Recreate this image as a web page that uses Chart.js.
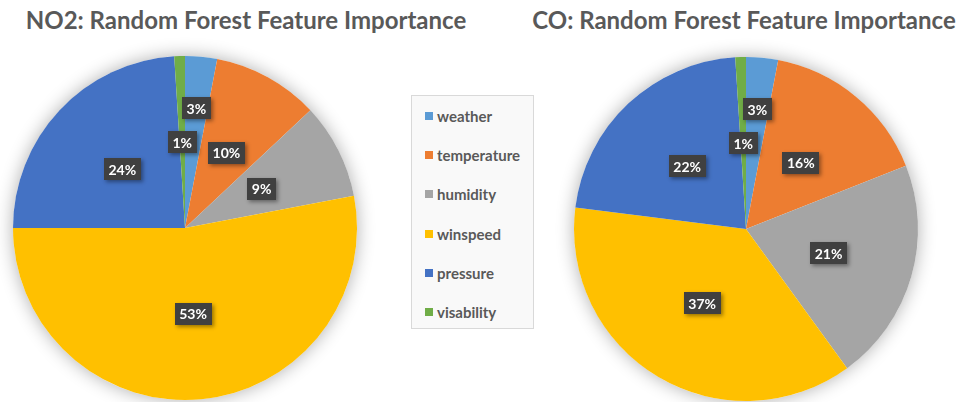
<!DOCTYPE html>
<html>
<head>
<meta charset="utf-8">
<script src="https://cdn.jsdelivr.net/npm/chart.js@4.4.1/dist/chart.umd.min.js"></script>
<style>
  html, body { margin: 0; padding: 0; background: #ffffff; }
  #stage { position: relative; width: 965px; height: 402px; overflow: hidden; background: #ffffff; }
  .title {
    position: absolute; top: 6px; text-align: center; white-space: nowrap;
    font-family: Lato, "Open Sans", sans-serif; font-weight: 700; font-size: 24px;
    line-height: 28px; color: #595959;
  }
  canvas { position: absolute; top: 0; }
  #legend {
    position: absolute; left: 411px; top: 95px; width: 121px; height: 232px;
    background: #f9f9f9; border: 1px solid #d9d9d9;
  }
  .item {
    position: absolute; left: 13px; height: 20px; line-height: 20px;
    font-family: Lato, "Open Sans", sans-serif; font-weight: 700; font-size: 15px; color: #595959;
    white-space: nowrap;
  }
  .swatch { position: absolute; left: 0; top: 6px; width: 8px; height: 8px; }
  .item span.txt { position: absolute; left: 12px; top: 0; }
</style>
</head>
<body>
<div id="stage">
  <div class="title" id="t1" style="left:0; width:492px;"></div>
  <div class="title" id="t2" style="left:500px; width:488px;"></div>
  <canvas id="no2" width="400" height="402" style="left:0;"></canvas>
  <canvas id="co" width="425" height="402" style="left:540px;"></canvas>
  <div id="legend"></div>
</div>
<script>
// Features and their importance (%) in each random forest model
const categories = ['weather', 'temperature', 'humidity', 'winspeed', 'pressure', 'visability'];
const no2Importance = [3, 10, 9, 53, 24, 1];
const coImportance = [3, 16, 21, 37, 22, 1];
const chartTitles = ['NO2: Random Forest Feature Importance', 'CO: Random Forest Feature Importance'];

const palette = ['#5b9bd5', '#ed7d31', '#a5a5a5', '#ffc000', '#4472c4', '#70ad47'];

document.getElementById('t1').textContent = chartTitles[0];
document.getElementById('t2').textContent = chartTitles[1];

// Shared legend
const legend = document.getElementById('legend');
categories.forEach((name, i) => {
  const item = document.createElement('div');
  item.className = 'item';
  item.style.top = (10 + i * 39.2) + 'px';
  const sw = document.createElement('div');
  sw.className = 'swatch';
  sw.style.background = palette[i];
  const tx = document.createElement('span');
  tx.className = 'txt';
  tx.textContent = name;
  item.appendChild(sw);
  item.appendChild(tx);
  legend.appendChild(item);
});

// Soft glow behind the whole pie
const pieShadow = {
  id: 'pieShadow',
  beforeDatasetsDraw(chart) {
    const arc = chart.getDatasetMeta(0).data[0];
    if (!arc) return;
    const { x, y, outerRadius } = arc.getProps(['x', 'y', 'outerRadius'], true);
    const ctx = chart.ctx;
    ctx.save();
    ctx.shadowColor = 'rgba(0,0,0,0.32)';
    ctx.shadowBlur = 18;
    ctx.beginPath();
    ctx.arc(x, y, outerRadius, 0, Math.PI * 2);
    ctx.fillStyle = '#ffffff';
    ctx.fill();
    ctx.restore();
  }
};

// Dark value boxes placed inside each slice
const valueBoxes = {
  id: 'valueBoxes',
  afterDatasetsDraw(chart, args, opts) {
    const ctx = chart.ctx;
    const values = chart.data.datasets[0].data;
    chart.getDatasetMeta(0).data.forEach((arc, i) => {
      const p = arc.getProps(['x', 'y', 'startAngle', 'endAngle', 'outerRadius'], true);
      const mid = (p.startAngle + p.endAngle) / 2;
      const r = p.outerRadius * opts.radius[i];
      const cx = p.x + Math.cos(mid) * r;
      const cy = p.y + Math.sin(mid) * r;
      const text = values[i] + '%';
      ctx.save();
      ctx.font = '700 14px Lato, "Open Sans", sans-serif';
      const w = ctx.measureText(text).width + 9;
      const h = 22;
      ctx.shadowColor = 'rgba(0,0,0,0.4)';
      ctx.shadowBlur = 4;
      ctx.shadowOffsetX = 2;
      ctx.shadowOffsetY = 2;
      ctx.fillStyle = '#404040';
      ctx.fillRect(Math.round(cx - w / 2), Math.round(cy - h / 2), Math.round(w), h);
      ctx.shadowColor = 'transparent';
      ctx.fillStyle = '#ffffff';
      ctx.textAlign = 'center';
      ctx.textBaseline = 'middle';
      ctx.fillText(text, cx, cy + 1);
      ctx.restore();
    });
  }
};

function makePie(id, values, padding) {
  return new Chart(document.getElementById(id), {
    type: 'pie',
    data: {
      labels: categories,
      datasets: [{ data: values, backgroundColor: palette, borderWidth: 0 }]
    },
    options: {
      responsive: false,
      animation: false,
      layout: { padding },
      plugins: {
        legend: { display: false },
        tooltip: { enabled: false },
        title: { display: false },
        valueBoxes: { radius: [0.7, 0.5, 0.5, 0.5, 0.5, 0.5] }
      }
    },
    plugins: [pieShadow, valueBoxes]
  });
}

makePie('no2', no2Importance, { left: 13, right: 43, top: 56, bottom: 2 });
makePie('co', coImportance, { left: 34, right: 47, top: 57, bottom: 1 });
</script>
</body>
</html>
